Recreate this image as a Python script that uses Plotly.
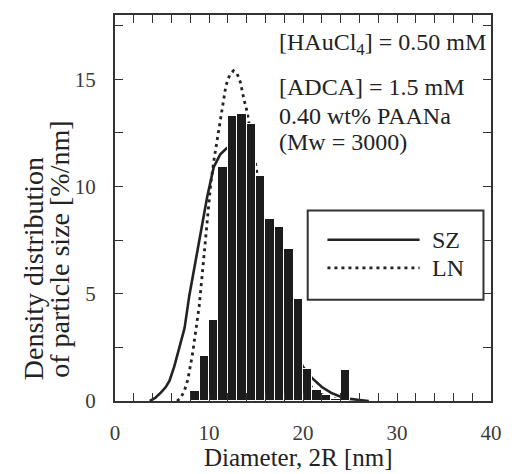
import plotly.graph_objects as go

# Histogram of measured particle diameters (1 nm bins, left edges)
bin_left = [8, 9, 10, 11, 12, 13, 14, 15, 16, 17, 18, 19, 20, 21, 22, 23, 24]
density = [0.45, 2.1, 3.8, 10.9, 13.3, 13.4, 12.9, 10.5, 8.5, 8.1, 7.1, 4.75,
           1.5, 0.5, 0.3, 0.1, 1.45]

# Fitted Schulz-Zimm (SZ) distribution
sz_d = [3.7, 4.3, 4.9, 5.4, 5.8, 6.3, 6.85, 7.4, 7.9, 8.4, 8.8, 9.3, 9.8, 10.5,
        11.2, 11.9, 12.5, 13, 14, 15, 16, 17, 18, 19, 20, 21, 22, 23, 24, 25, 26, 27]
sz_p = [0, 0.15, 0.4, 0.65, 0.95, 1.6, 2.5, 3.4, 4.9, 6.1, 7.1, 8.3, 9.5, 10.9,
        11.5, 11.8, 11.8, 11.5, 10.4, 8.9, 7.1, 5.3, 3.7, 2.4, 1.6, 1.05, 0.65,
        0.38, 0.2, 0.1, 0.05, 0]

# Fitted log-normal (LN) distribution
ln_d = [6.6, 7.0, 7.4, 7.75, 8.25, 8.6, 8.95, 9.3, 9.6, 9.9, 10.2, 10.55, 10.9,
        11.25, 11.5, 11.8, 12.2, 12.6, 13.0, 13.35, 13.7, 14.05, 14.5, 15, 16,
        17, 18, 19, 20, 21, 22, 23, 24, 25]
ln_p = [0, 0.15, 0.5, 1.0, 2.2, 3.2, 4.4, 6.0, 7.5, 8.9, 10.2, 11.3, 12.2,
        13.1, 13.9, 14.7, 15.2, 15.4, 15.25, 14.85, 14.1, 13.5, 12.3, 10.9, 8.0,
        5.4, 3.4, 2.0, 1.15, 0.6, 0.3, 0.13, 0.05, 0]

x_ticks = [0, 10, 20, 30, 40]
x_tick_labels = ["0", "10", "20", "30", "40"]
y_ticks = [0, 5, 10, 15]
y_tick_labels = ["0", "5", "10", "15"]

conditions = ["[HAuCl<sub>4</sub>] = 0.50 mM", "[ADCA] = 1.5 mM",
              "0.40 wt% PAANa", "(Mw = 3000)"]
cond_y = [16.64, 14.63, 13.27, 12.06]

series_names = ["SZ", "LN"]

INK = "#222222"
TICK_INK = "#3a3a3a"
FONT = "Liberation Serif"
X_RANGE = [0, 40]
Y_RANGE = [0, 18]
LN_DASH = "3px,4px"

fig = go.Figure()

# Curves on the base axes so the histogram bars sit on top of them
fig.add_trace(go.Scatter(x=sz_d, y=sz_p, mode="lines", name=series_names[0],
                         line=dict(color=INK, width=2.6), showlegend=False))
fig.add_trace(go.Scatter(x=ln_d, y=ln_p, mode="lines", name=series_names[1],
                         line=dict(color=INK, width=2.8, dash=LN_DASH),
                         showlegend=False))

fig.add_trace(go.Bar(x=[b + 0.5 for b in bin_left], y=density, width=1,
                     marker=dict(color="#1c1c1c", line=dict(color="white", width=1)),
                     xaxis="x2", yaxis="y2", showlegend=False))

axis_common = dict(showline=True, linewidth=2, linecolor="#333333", mirror="ticks",
                   ticks="inside", ticklen=8, tickwidth=1.2, tickcolor="#333333",
                   showgrid=False, zeroline=False,
                   tickfont=dict(family=FONT, size=21, color=TICK_INK))

fig.update_layout(
    width=514, height=474,
    margin=dict(l=115, r=19, t=15, b=73),
    paper_bgcolor="white", plot_bgcolor="white",
    font=dict(family=FONT, color=INK),
    xaxis=dict(range=X_RANGE, tickmode="array", tickvals=x_ticks,
               ticktext=x_tick_labels, ticklabelstandoff=12,
               minor=dict(dtick=2, ticks="inside", ticklen=8, tickcolor="#333333"),
               **axis_common),
    yaxis=dict(range=Y_RANGE, tickmode="array", tickvals=y_ticks,
               ticktext=y_tick_labels, ticklabelstandoff=13,
               minor=dict(dtick=2.5, ticks="inside", ticklen=8, tickcolor="#333333"),
               **axis_common),
    xaxis2=dict(range=X_RANGE, overlaying="x", anchor="y2", visible=False),
    yaxis2=dict(range=Y_RANGE, overlaying="y", anchor="x2", visible=False),
    bargap=0,
)

annotations = []
for txt, yv in zip(conditions, cond_y):
    annotations.append(dict(x=17.2, y=yv, xref="x", yref="y", text=txt,
                            showarrow=False, xanchor="left", yanchor="middle",
                            font=dict(family=FONT, size=24, color=INK)))

# Axis titles
annotations.append(dict(x=0.487, y=-0.1865, xref="paper", yref="paper",
                        text="Diameter, 2R [nm]", showarrow=False,
                        xanchor="center", yanchor="bottom",
                        font=dict(family=FONT, size=25, color=INK)))
annotations.append(dict(x=-0.215, y=0.342, xref="paper", yref="paper",
                        text="Density distribution", showarrow=False, textangle=-90,
                        xanchor="center", yanchor="middle",
                        font=dict(family=FONT, size=28, color=INK)))
annotations.append(dict(x=-0.146, y=0.392, xref="paper", yref="paper",
                        text="of particle size [%/nm]", showarrow=False, textangle=-90,
                        xanchor="center", yanchor="middle",
                        font=dict(family=FONT, size=28, color=INK)))

# Legend box with long line samples
leg_x0, leg_x1, leg_y0, leg_y1 = 20.5, 39.2, 4.72, 8.88
leg_line_x = [22.6, 32.4]
leg_line_y = [7.52, 6.21]
shapes = [dict(type="rect", xref="x", yref="y", x0=leg_x0, x1=leg_x1, y0=leg_y0, y1=leg_y1,
               line=dict(color="#333333", width=2), fillcolor="white", layer="above")]
shapes.append(dict(type="line", xref="x", yref="y", x0=leg_line_x[0], x1=leg_line_x[1],
                   y0=leg_line_y[0], y1=leg_line_y[0],
                   line=dict(color=INK, width=2.6), layer="above"))
shapes.append(dict(type="line", xref="x", yref="y", x0=leg_line_x[0], x1=leg_line_x[1],
                   y0=leg_line_y[1], y1=leg_line_y[1],
                   line=dict(color=INK, width=2.8, dash=LN_DASH), layer="above"))
for name, yv in zip(series_names, leg_line_y):
    annotations.append(dict(x=33.5, y=yv, xref="x", yref="y", text=name,
                            showarrow=False, xanchor="left", yanchor="middle",
                            font=dict(family=FONT, size=24, color=INK)))

fig.update_layout(annotations=annotations, shapes=shapes)

fig.write_html("out.html")
